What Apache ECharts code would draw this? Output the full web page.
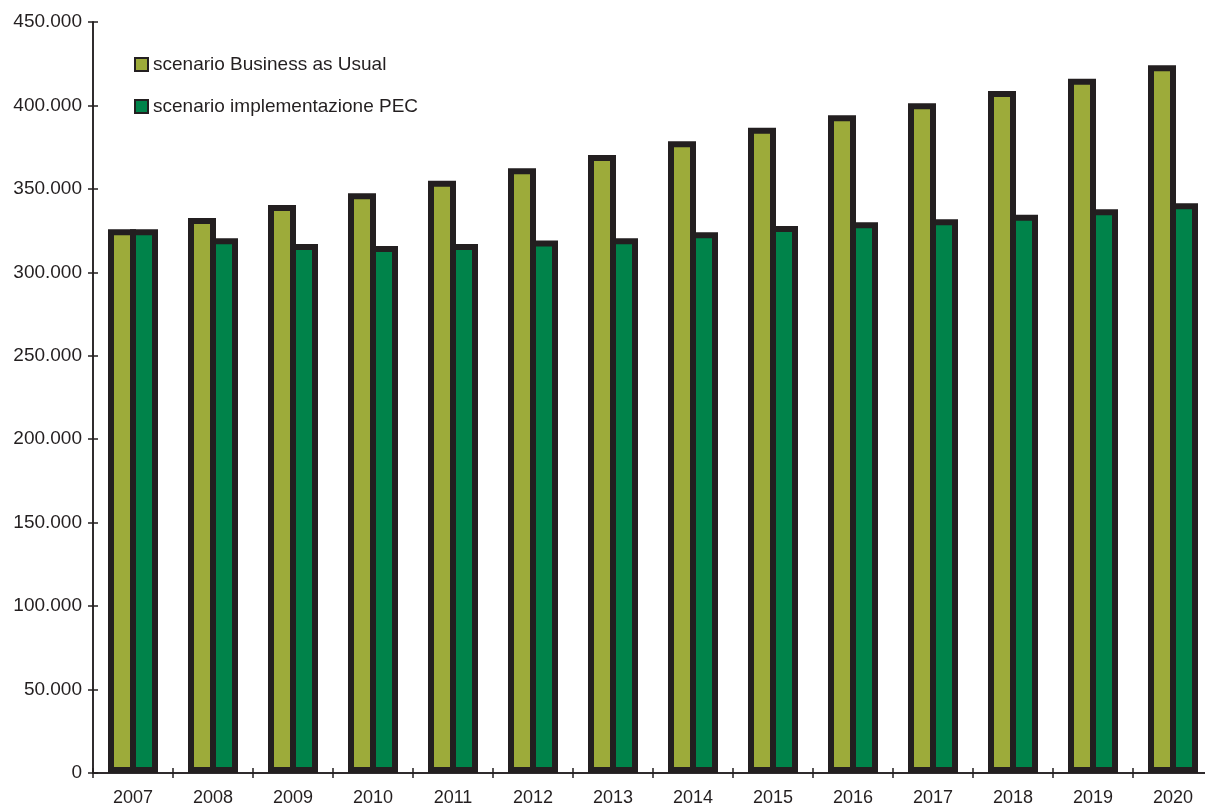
<!DOCTYPE html>
<html>
<head>
<meta charset="utf-8">
<script src="https://cdn.jsdelivr.net/npm/echarts@6/dist/echarts.min.js"></script>
<style>
html,body{margin:0;padding:0;background:#fff;}
#chart{width:1205px;height:805px;}
</style>
</head>
<body>
<div id="chart"></div>
<script>
const years = ['2007','2008','2009','2010','2011','2012','2013','2014','2015','2016','2017','2018','2019','2020'];
const bauName = 'scenario Business as Usual';
const pecName = 'scenario implementazione PEC';
const bauValues = [325800,332600,340300,347400,354900,362300,370300,378500,386700,394100,401300,408700,416000,424100];
const pecValues = [325800,320400,317000,315800,317000,319000,320400,324000,327800,330000,331800,334500,337800,341400];
const yMax = 450000;
const yStep = 50000;

const dark = '#231f20';
const font = 'Liberation Sans, Arial, sans-serif';
function fmt(v){ return String(v).replace(/\B(?=(\d{3})+(?!\d))/g, '.'); }

const chart = echarts.init(document.getElementById('chart'));
const baseX = {
  type:'category', data: years, position:'bottom',
  boundaryGap:true,
  axisLine:{show:true, lineStyle:{color:dark, width:1.5}},
};
const baseY = {
  type:'value', min:0, max:yMax, interval:yStep, position:'left',
  splitLine:{show:false},
  axisLine:{show:true, lineStyle:{color:dark, width:1.5}},
};
const bw = 6, barW = 28;
chart.setOption({
  animation:false,
  grid:{left:93, top:22, width:1120, height:751, containLabel:false, outerBoundsMode:'none'},
  legend:{
    orient:'vertical', left:134, top:55, itemGap:23, padding:0,
    itemWidth:13, itemHeight:13, icon:'rect',
    itemStyle:{borderColor:dark, borderWidth:2},
    textStyle:{fontFamily:font, fontSize:19, color:dark},
    data:[bauName, pecName]
  },
  xAxis:[
    Object.assign({}, baseX, {
      axisTick:{show:true, inside:false, length:5, lineStyle:{color:dark, width:1.5}},
      axisLabel:{fontFamily:font, fontSize:18, color:dark, margin:16}
    }),
    Object.assign({}, baseX, {
      axisTick:{show:true, inside:true, length:5, lineStyle:{color:dark, width:1.5}},
      axisLabel:{show:false}
    })
  ],
  yAxis:[
    Object.assign({}, baseY, {
      axisTick:{show:true, inside:false, length:5, lineStyle:{color:dark, width:1.5}},
      axisLabel:{fontFamily:font, fontSize:19, color:dark, margin:11, formatter:fmt}
    }),
    Object.assign({}, baseY, {
      axisTick:{show:true, inside:true, length:5, lineStyle:{color:dark, width:1.5}},
      axisLabel:{show:false}
    })
  ],
  series:[
    {name:bauName, type:'bar', data:bauValues, barWidth:barW, barGap:(-bw/barW*100)+'%',
     itemStyle:{color:'#9dab3a', borderColor:dark, borderWidth:bw}},
    {name:pecName, type:'bar', data:pecValues, barWidth:barW, barGap:(-bw/barW*100)+'%',
     itemStyle:{color:'#00834a', borderColor:dark, borderWidth:bw}}
  ]
});
</script>
</body>
</html>
